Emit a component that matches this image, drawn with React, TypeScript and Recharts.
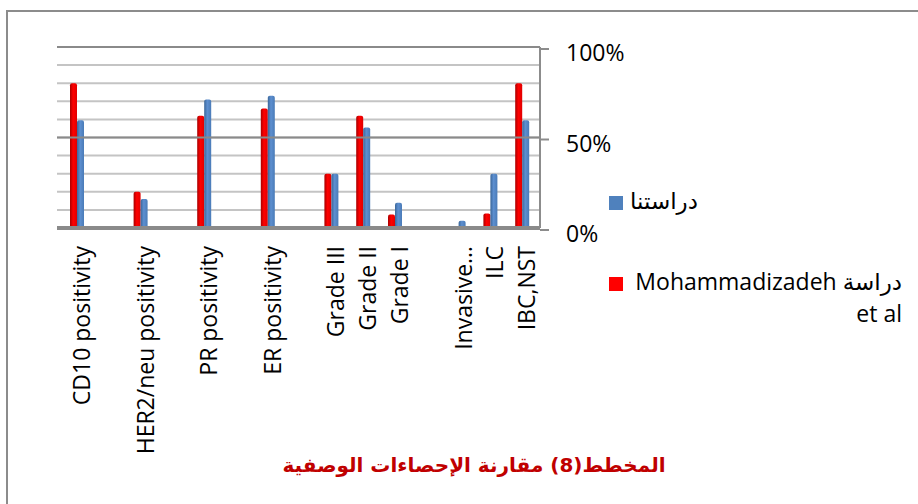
import React from "react";
import {
  Bar,
  BarChart,
  CartesianGrid,
  Legend,
  ReferenceLine,
  XAxis,
  YAxis,
} from "recharts";

// categories (empty strings are the gaps between groups in the original)
const categories = [
  "CD10 positivity",
  "",
  "HER2/neu positivity",
  "",
  "PR positivity",
  "",
  "ER positivity",
  "",
  "Grade III",
  "Grade II",
  "Grade I",
  "",
  "Invasive…",
  "ILC",
  "IBC,NST",
];

const mohammadizadeh = [80, null, 20, null, 62, null, 66, null, 30, 62, 7.5, null, 0.5, 8, 80];
const ourStudy = [59.5, null, 16, null, 71, null, 73, null, 30, 55.5, 14, null, 4, 30, 59.5];

const yTicks = [0, 10, 20, 30, 40, 50, 60, 70, 80, 90, 100];
const yMajor = [0, 50, 100];

const seriesNames = {
  red: "دراسة Mohammadizadeh et al",
  blue: "دراستنا",
};

const swatch: Record<string, string> = { red: "#ff0000", blue: "#4f81bd" };

const chartTitle = "المخطط(8) مقارنة الإحصاءات الوصفية";

const data = categories.map((name, i) => ({
  name,
  red: mohammadizadeh[i],
  blue: ourStudy[i],
}));

const FONT = "'Open Sans', 'DejaVu Sans', sans-serif";

const CategoryTick = (props: any) => {
  const { x, y, payload } = props;
  if (!payload.value) return <g />;
  const cx = x + 4;
  return (
    <text
      x={cx}
      y={y}
      transform={`rotate(-90, ${cx}, ${y})`}
      textAnchor="end"
      dominantBaseline="central"
      fontFamily={FONT}
      fontSize={23}
      fill="#000"
    >
      {payload.value}
    </text>
  );
};

const PercentTick = (props: any) => {
  const { x, y, payload } = props;
  if (!yMajor.includes(payload.value)) return <g />;
  return (
    <g>
      <line x1={x - 26} x2={x - 17} y1={y + 2} y2={y + 2} stroke="#8c8c8c" strokeWidth={2} />
      <text
        x={x}
        y={y + 5}
        dominantBaseline="central"
        textAnchor="start"
        fontFamily={FONT}
        fontSize={23}
        fill="#000"
      >
        {payload.value}%
      </text>
    </g>
  );
};

const LegendBox = (props: any) => {
  const items = [...(props.payload || [])].reverse();
  return (
    <div style={{ position: "relative", width: 300, height: 150, fontFamily: FONT, fontSize: 23 }}>
      {items.map((it: any, i: number) => {
        const top = i === 0 ? 0 : 81;
        return (
          <React.Fragment key={it.value}>
            <div
              style={{
                position: "absolute",
                left: 0,
                top: top + 6,
                width: 14,
                height: 14,
                background: swatch[it.dataKey] || it.color,
              }}
            />
            <div
              style={{
                position: "absolute",
                left: 21,
                top: top - 6,
                width: 272,
                lineHeight: "32px",
                direction: "rtl",
                textAlign: i === 0 ? "left" : "right",
                color: "#000",
              }}
            >
              {it.value}
            </div>
          </React.Fragment>
        );
      })}
    </div>
  );
};

export default function App() {
  return (
    <div
      style={{
        position: "absolute",
        left: 0,
        top: 0,
        width: 918,
        height: 504,
        overflow: "hidden",
        background: "#fff",
      }}
    >
      <div
        style={{
          position: "absolute",
          left: 6,
          top: 10,
          width: 1000,
          height: 1000,
          border: "2px solid #8c8c8c",
        }}
      />
      <BarChart
        width={918}
        height={504}
        data={data}
        margin={{ top: 47, left: 57, right: 318, bottom: 246 }}
        barGap={0}
        barSize={7}
        style={{ position: "absolute", left: 0, top: 0 }}
      >
        <defs>
          <linearGradient id="gRed" x1="0" y1="0" x2="1" y2="0">
            <stop offset="0%" stopColor="#a80000" />
            <stop offset="45%" stopColor="#ff0000" />
            <stop offset="100%" stopColor="#e00000" />
          </linearGradient>
          <linearGradient id="gBlue" x1="0" y1="0" x2="1" y2="0">
            <stop offset="0%" stopColor="#3a6699" />
            <stop offset="45%" stopColor="#5d8fd0" />
            <stop offset="100%" stopColor="#4a7bb7" />
          </linearGradient>
        </defs>
        <CartesianGrid vertical={false} stroke="#c4c4c4" strokeWidth={2} />
        <ReferenceLine y={50} stroke="#8a8a8a" strokeWidth={2} />
        <ReferenceLine y={100} stroke="#8a8a8a" strokeWidth={2} />
        <ReferenceLine y={0} stroke="#8a8a8a" strokeWidth={4} />
        <XAxis
          dataKey="name"
          interval={0}
          height={30}
          axisLine={false}
          tickLine={false}
          tickSize={0}
          tickMargin={18}
          padding={{ left: 4, right: 2 }}
          tick={<CategoryTick />}
        />
        <YAxis
          orientation="right"
          domain={[0, 100]}
          ticks={yTicks}
          interval={0}
          width={60}
          axisLine={{ stroke: "#8c8c8c", strokeWidth: 2 }}
          tickLine={false}
          tickSize={0}
          tickMargin={26}
          tick={<PercentTick />}
        />
        <Legend
          layout="vertical"
          align="center"
          verticalAlign="middle"
          content={<LegendBox />}
          wrapperStyle={{ left: 609, top: 190, width: 300, height: 150 }}
        />
        <Bar dataKey="red" name={seriesNames.red} fill="url(#gRed)" radius={[2, 2, 0, 0]} isAnimationActive={false} legendType="square" />
        <Bar dataKey="blue" name={seriesNames.blue} fill="url(#gBlue)" radius={[2, 2, 0, 0]} isAnimationActive={false} legendType="square" />
      </BarChart>
      <div
        style={{
          position: "absolute",
          left: 224,
          top: 450,
          width: 500,
          textAlign: "center",
          direction: "rtl",
          whiteSpace: "nowrap",
          fontFamily: "'DejaVu Sans', sans-serif",
          fontWeight: "bold",
          fontSize: 20,
          lineHeight: "30px",
          color: "#c00000",
        }}
      >
        {chartTitle}
      </div>
    </div>
  );
}
